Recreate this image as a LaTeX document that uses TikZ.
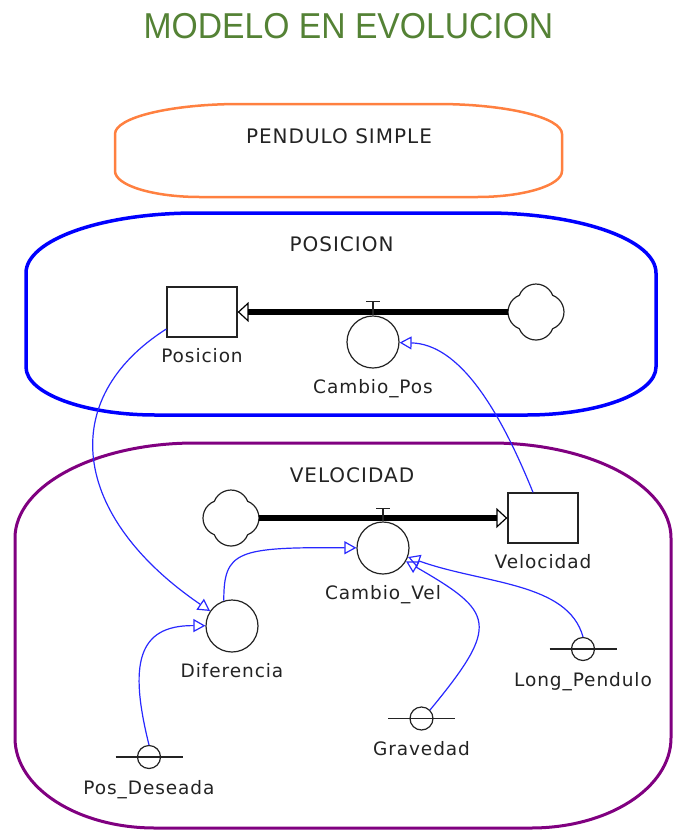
\documentclass[tikz,border=0pt]{standalone}
\usepackage{graphicx}
\usepackage{fontspec}
\setmainfont{DejaVu Sans}
\newfontfamily\titlefont{Liberation Sans}
\newfontfamily\labelfont[LetterSpace=5]{DejaVu Sans}
\usetikzlibrary{arrows.meta}

\definecolor{titlegreen}{RGB}{84,130,53}
\definecolor{penduloorange}{RGB}{255,128,64}
\definecolor{posblue}{RGB}{0,0,255}
\definecolor{velpurple}{RGB}{128,0,128}
\definecolor{linkblue}{RGB}{40,40,255}
\definecolor{inkgray}{RGB}{35,35,35}

% rounded sector box: style, x1, y1, x2, y2, top rx/ry, bottom rx/ry
\newcommand{\sectorbox}[9]{%
  \draw[#1] (#2+#6,#3) -- (#4-#6,#3)
    arc[start angle=-90, end angle=0, x radius=#6, y radius=#7] -- (#4,#5-#9)
    arc[start angle=0, end angle=90, x radius=#8, y radius=#9] -- (#2+#8,#5)
    arc[start angle=90, end angle=180, x radius=#8, y radius=#9] -- (#2,#3+#7)
    arc[start angle=180, end angle=270, x radius=#6, y radius=#7] -- cycle;}

% four-lobed cloud round a node
\newcommand{\drawcloud}[1]{%
  \draw[inkgray, line width=1.2pt] (#1.center) ++(-45:23.6)
    \foreach \k in {0,...,3} {arc[start angle=90*\k-68.1, end angle=90*\k+68.1, radius=18]} -- cycle;}

\tikzset{
  stock/.style={rectangle, draw=inkgray, line width=1.3pt, minimum width=70pt, minimum height=50pt, inner sep=0pt},
  valve/.style={circle, draw=inkgray, line width=1.2pt, minimum size=52pt, inner sep=0pt},
  aux/.style={circle, draw=inkgray, line width=1.2pt, minimum size=23pt, inner sep=0pt},
  cloudsrc/.style={rectangle, minimum size=56pt, inner sep=0pt},
  pipe/.style={line width=6pt, -{Triangle[open, length=11pt, width=20pt, line width=1.2pt]}},
  link/.style={linkblue, line width=1.2pt, -{Triangle[open, length=12pt, width=13pt, line width=1.2pt]}},
  lbl/.style={font=\labelfont\fontsize{18.5}{22}\selectfont, text=inkgray, inner sep=0pt},
  grouplbl/.style={font=\labelfont\fontsize{20}{24}\selectfont, text=inkgray, inner sep=0pt}
}

\begin{document}
\begin{tikzpicture}[x=1pt, y=-1pt, label distance=11pt]
\useasboundingbox (0,0) rectangle (679,831);
\clip (0,0) rectangle (679,831);

% title
\node (title) at (348.5,26) [text=titlegreen, inner sep=0pt] {\scalebox{0.935}[1]{\titlefont\fontsize{36}{40}\selectfont MODELO EN EVOLUCION}};

% sector boxes
\sectorbox{penduloorange, line width=2.5pt}{115}{104}{562}{197}{125}{30}{85}{26}
\node (pendulo) at (339,136) [grouplbl] {PENDULO SIMPLE};
\sectorbox{posblue, line width=3.5pt}{26}{213}{656}{415}{170}{60}{130}{48}
\node (posgroup) at (341.5,244.5) [grouplbl] {POSICION};
\sectorbox{velpurple, line width=3pt}{15}{443}{671}{828}{180}{95}{140}{90}
\node (velgroup) at (352,475.5) [grouplbl] {VELOCIDAD};

% stocks, flows and clouds
\node[stock, label={[lbl]below:Posicion}] (Posicion) at (202,312) {};
\node[cloudsrc] (PosCloud) at (536,312) {};
\drawcloud{PosCloud}
\node[valve, label={[lbl]below:Cambio\_Pos}] (CambioPos) at (373,342) {};
\draw[pipe] (PosCloud) -- (Posicion);
\draw[inkgray, line width=1.5pt] (CambioPos.north) -- ++(0,-14) ++(-7,0) -- ++(14,0);

\node[stock, label={[lbl]below:Velocidad}] (Velocidad) at (543,518) {};
\node[cloudsrc] (VelCloud) at (231,518) {};
\drawcloud{VelCloud}
\node[valve, label={[lbl]below:Cambio\_Vel}] (CambioVel) at (383,548) {};
\draw[pipe] (VelCloud) -- (Velocidad);
\draw[inkgray, line width=1.5pt] (CambioVel.north) -- ++(0,-13) ++(-7,0) -- ++(14,0);

% auxiliaries
\node[valve, label={[lbl]below:Diferencia}] (Diferencia) at (232,626) {};
\node[aux, label={[lbl]below:Pos\_Deseada}] (PosDeseada) at (149,757) {};
\draw[inkgray, line width=1.2pt] (PosDeseada.center) ++(-33.5,0) -- ++(67,0);
\node[aux, label={[lbl]below:Gravedad}] (Gravedad) at (421.5,718.5) {};
\draw[inkgray, line width=1.2pt] (Gravedad.center) ++(-33.5,0) -- ++(67,0);
\node[aux, label={[lbl]below:Long\_Pendulo}] (LongPendulo) at (583,649) {};
\draw[inkgray, line width=1.2pt] (LongPendulo.center) ++(-33.5,0) -- ++(67,0);

% links
\draw[link] ([yshift=-17pt]Posicion.west) .. controls +(-110,70) and +(-161,-110) .. (Diferencia);
\draw[link] ([xshift=-10pt]Velocidad.north) .. controls +(-34,-84) and +(86,2) .. (CambioPos);
\draw[link] (PosDeseada.north) .. controls +(-20,-80) and +(-95,-1) .. (Diferencia);
\draw[link] (Diferencia.108) .. controls +(0,-50) and +(-146,-1) .. (CambioVel);
\draw[link] (Gravedad.north east) .. controls +(71,-86) and +(111,64) .. (CambioVel);
\draw[link] (LongPendulo.north) .. controls +(-15,-55) and +(100,36) .. (CambioVel);

\end{tikzpicture}
\end{document}
